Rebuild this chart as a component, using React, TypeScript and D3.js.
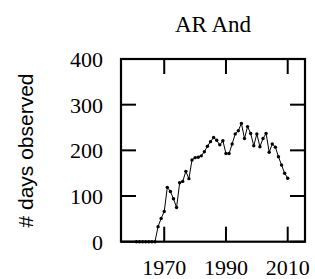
import React from "react";
import * as d3 from "d3";

const years = [
  1961, 1962, 1963, 1964, 1965, 1966, 1967, 1968, 1969, 1970,
  1971, 1972, 1973, 1974, 1975, 1976, 1977, 1978, 1979, 1980,
  1981, 1982, 1983, 1984, 1985, 1986, 1987, 1988, 1989, 1990,
  1991, 1992, 1993, 1994, 1995, 1996, 1997, 1998, 1999, 2000,
  2001, 2002, 2003, 2004, 2005, 2006, 2007, 2008, 2009, 2010,
];
const daysObserved = [
  0, 0, 0, 0, 0, 0, 0, 33, 51, 66,
  119, 110, 94, 75, 129, 132, 154, 138, 179, 184,
  185, 188, 197, 209, 219, 228, 222, 212, 221, 193,
  193, 214, 236, 243, 259, 226, 252, 237, 210, 236,
  208, 226, 237, 196, 214, 207, 186, 168, 150, 139,
];
const xTicks = [1970, 1990, 2010];
const yTicks = [0, 100, 200, 300, 400];
const title = "AR And";
const yLabel = "# days observed";

export default function App() {
  const W = 315, H = 279;
  const left = 121, right = 305, top = 59, bottom = 241.7;
  const x = d3.scaleLinear().domain([1956, 2015.6]).range([left, right]);
  const y = d3.scaleLinear().domain([0, 400]).range([bottom, top]);
  const line = d3.line<number>()
    .x((_, i) => x(years[i]))
    .y((d) => y(d));
  const tick = 15;
  const serif = "'Liberation Serif', 'DejaVu Serif', serif";
  return (
    <svg width={W} height={H} style={{ position: "absolute", left: 0, top: 0, background: "#fff" }}>
      <text x={(left + right) / 2} y={31.5} textAnchor="middle" fontFamily={serif} fontSize={23}>{title}</text>
      <text transform={`translate(33,150.5) rotate(-90)`} textAnchor="middle" fontFamily="'Liberation Sans', Arial, sans-serif" fontSize={21}>{yLabel}</text>
      {yTicks.map((t) => (
        <g key={"y" + t}>
          <line x1={left} x2={left + tick} y1={y(t)} y2={y(t)} stroke="#000" strokeWidth={2} />
          <line x1={right} x2={right - tick} y1={y(t)} y2={y(t)} stroke="#000" strokeWidth={2} />
          <text x={103} y={y(t) + 8} textAnchor="end" fontFamily={serif} fontSize={22}>{t}</text>
        </g>
      ))}
      {xTicks.map((t) => (
        <g key={"x" + t}>
          <line x1={x(t)} x2={x(t)} y1={bottom} y2={bottom - tick} stroke="#000" strokeWidth={2} />
          <line x1={x(t)} x2={x(t)} y1={top} y2={top + tick} stroke="#000" strokeWidth={2} />
          <text x={x(t)} y={275} textAnchor="middle" fontFamily={serif} fontSize={22}>{t}</text>
        </g>
      ))}
      <path d={line(daysObserved) || ""} fill="none" stroke="#000" strokeWidth={1} />
      {daysObserved.map((d, i) => (
        <circle key={i} cx={x(years[i])} cy={y(d)} r={1.7} fill="#000" />
      ))}
      <rect x={left} y={top} width={right - left} height={bottom - top} fill="none" stroke="#000" strokeWidth={2.2} />
    </svg>
  );
}
